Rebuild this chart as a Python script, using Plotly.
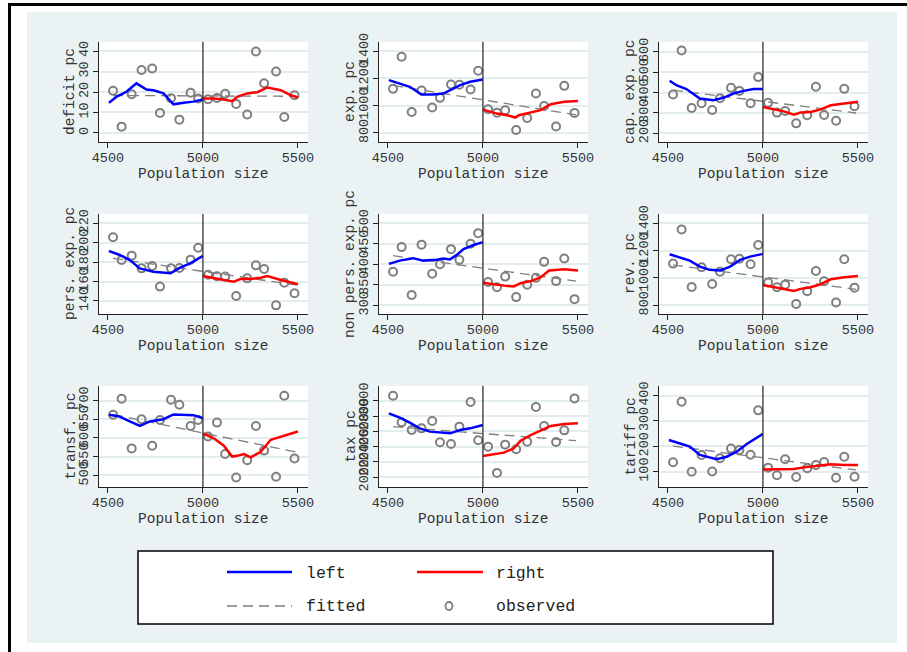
import plotly.graph_objects as go

W, H = 907, 652

# ---------------- data ----------------
bin_x = [4527, 4572, 4625, 4677, 4733, 4774, 4832, 4876, 4935, 4975,
         5027, 5074, 5117, 5175, 5233, 5279, 5322, 5385, 5428, 5482]

fit_x = [4527, 5490]

titles = ["deficit pc", "exp. pc", "cap. exp. pc",
          "pers. exp. pc", "non pers. exp. pc", "rev. pc",
          "transf. pc", "tax pc", "tariff pc"]

tickvals = [[0, 10, 20, 30, 40],
            [800, 1000, 1200, 1400],
            [200, 300, 400, 500, 600],
            [140, 160, 180, 200, 220],
            [300, 350, 400, 450, 500],
            [800, 1000, 1200, 1400],
            [500, 550, 600, 650, 700],
            [2000, 2200, 2400, 2600, 2800, 3000],
            [100, 200, 300, 400]]

# observed bin means
deficit_obs = [20.6, 3.1, 18.9, 30.7, 31.5, 9.8, 17.0, 6.5, 19.6, 16.8,
               16.5, 17.1, 19.1, 14.2, 9.0, 39.8, 24.3, 30.0, 7.8, 18.4]
exp_obs = [1123, 1358, 954, 1111, 986, 1057, 1155, 1153, 1118, 1255,
           974, 949, 967, 822, 910, 1089, 998, 847, 1145, 947]
capexp_obs = [390, 607, 324, 347, 314, 372, 423, 408, 347, 476,
              349, 301, 309, 248, 288, 428, 289, 261, 418, 332]
persexp_obs = [205.6, 182.2, 186.7, 173.6, 176.1, 154.8, 173.6, 174.0, 182.6, 194.9,
               167.1, 165.4, 165.1, 145.2, 163.3, 176.7, 173.0, 135.5, 158.9, 147.9]
nonpers_obs = [382, 442, 325, 448, 377, 400, 437, 411, 450, 476,
               357, 344, 370, 320, 350, 367, 406, 359, 414, 315]
rev_obs = [1105, 1354, 934, 1078, 956, 1046, 1137, 1141, 1100, 1241,
           966, 932, 951, 810, 902, 1051, 976, 820, 1137, 929]
transf_obs = [662, 705, 572, 650, 579, 648, 702, 689, 632, 648,
              604, 641, 557, 494, 540, 632, 566, 496, 713, 545]
tax_obs = [3065, 2717, 2617, 2639, 2735, 2457, 2435, 2661, 2983, 2483,
           2400, 2057, 2426, 2365, 2465, 2917, 2670, 2461, 2613, 3030]
tariff_obs = [137, 376, 100, 166, 101, 153, 191, 186, 167, 342,
              116, 86, 149, 79, 114, 126, 138, 76, 159, 80]

# local (left of cutoff) smooth
deficit_lx = [4505, 4544, 4597, 4650, 4703, 4739, 4792, 4845, 4898, 4951, 5000]
deficit_ly = [14.7, 17.6, 20.1, 24.2, 21.2, 20.9, 19.3, 14.0, 14.7, 15.3, 16.3]
exp_lx = [4505, 4562, 4615, 4677, 4739, 4792, 4827, 4880, 4933, 5000]
exp_ly = [1187, 1162, 1138, 1082, 1082, 1089, 1113, 1150, 1175, 1192]
capexp_lx = [4509, 4544, 4597, 4668, 4739, 4792, 4845, 4898, 4951, 5000]
capexp_ly = [458, 436, 417, 370, 362, 374, 395, 408, 417, 417]
persexp_lx = [4505, 4562, 4615, 4668, 4739, 4792, 4830, 4880, 4933, 5000]
persexp_ly = [191.5, 187.4, 182.2, 173.6, 170.2, 169.2, 168.5, 174.3, 178.8, 186.4]
nonpers_lx = [4505, 4562, 4633, 4686, 4756, 4792, 4827, 4862, 4898, 4951, 5000]
nonpers_ly = [401, 409, 415, 409, 411, 414, 412, 423, 437, 447, 454]
rev_lx = [4509, 4562, 4615, 4668, 4721, 4774, 4827, 4880, 4933, 5000]
rev_ly = [1173, 1151, 1127, 1083, 1059, 1054, 1083, 1132, 1156, 1176]
transf_lx = [4505, 4562, 4615, 4668, 4721, 4792, 4845, 4898, 4951, 5000]
transf_ly = [662, 657, 644, 632, 644, 650, 663, 663, 661, 653]
tax_lx = [4505, 4562, 4615, 4668, 4721, 4774, 4827, 4880, 4933, 5000]
tax_ly = [2835, 2778, 2713, 2639, 2596, 2583, 2574, 2617, 2639, 2683]
tariff_lx = [4505, 4562, 4615, 4668, 4721, 4756, 4809, 4862, 4915, 4968, 5000]
tariff_ly = [225, 212, 199, 166, 157, 149, 159, 179, 209, 232, 249]

# right of cutoff smooth
deficit_rx = [5000, 5057, 5110, 5154, 5180, 5233, 5286, 5339, 5410, 5463, 5500]
deficit_ry = [16.8, 16.8, 16.3, 15.5, 17.6, 19.3, 19.9, 22.2, 20.9, 18.4, 17.3]
exp_rx = [5000, 5074, 5127, 5171, 5189, 5251, 5304, 5357, 5428, 5500]
exp_ry = [971, 942, 930, 913, 930, 947, 967, 1011, 1028, 1035]
capexp_rx = [5000, 5057, 5110, 5163, 5198, 5251, 5304, 5357, 5428, 5500]
capexp_ry = [329, 316, 307, 291, 301, 304, 317, 337, 345, 354]
persexp_rx = [5000, 5057, 5110, 5163, 5198, 5251, 5304, 5339, 5410, 5500]
persexp_ry = [165.8, 163.3, 161.6, 159.9, 162.7, 162.7, 164.0, 165.8, 161.6, 157.2]
nonpers_rx = [5000, 5057, 5110, 5163, 5198, 5251, 5304, 5348, 5428, 5500]
nonpers_ry = [355, 351, 348, 346, 354, 359, 368, 385, 388, 385]
rev_rx = [5000, 5057, 5110, 5163, 5198, 5251, 5304, 5357, 5428, 5500]
rev_ry = [949, 932, 917, 905, 920, 932, 954, 990, 1005, 1015]
transf_rx = [5000, 5057, 5110, 5154, 5180, 5216, 5251, 5304, 5357, 5428, 5500]
transf_ry = [612, 599, 579, 550, 552, 557, 548, 563, 595, 605, 617]
tax_rx = [5000, 5057, 5110, 5163, 5198, 5251, 5304, 5357, 5428, 5500]
tax_ry = [2278, 2304, 2322, 2378, 2478, 2552, 2609, 2670, 2696, 2704]
tariff_rx = [5000, 5057, 5110, 5163, 5216, 5286, 5357, 5428, 5500]
tariff_ry = [109, 109, 109, 111, 117, 124, 129, 126, 126]

# linear fit end values
deficit_fit = [18.3, 17.9]
exp_fit = [1148, 933]
capexp_fit = [412, 299]
persexp_fit = [184, 156.5]
nonpers_fit = [421, 359]
rev_fit = [1095, 917]
transf_fit = [663, 562]
tax_fit = [2661, 2478]
tariff_fit = [201, 107]

obs = [deficit_obs, exp_obs, capexp_obs, persexp_obs, nonpers_obs, rev_obs,
       transf_obs, tax_obs, tariff_obs]
lx = [deficit_lx, exp_lx, capexp_lx, persexp_lx, nonpers_lx, rev_lx,
      transf_lx, tax_lx, tariff_lx]
ly = [deficit_ly, exp_ly, capexp_ly, persexp_ly, nonpers_ly, rev_ly,
      transf_ly, tax_ly, tariff_ly]
rx = [deficit_rx, exp_rx, capexp_rx, persexp_rx, nonpers_rx, rev_rx,
      transf_rx, tax_rx, tariff_rx]
ry = [deficit_ry, exp_ry, capexp_ry, persexp_ry, nonpers_ry, rev_ry,
      transf_ry, tax_ry, tariff_ry]
fits = [deficit_fit, exp_fit, capexp_fit, persexp_fit, nonpers_fit, rev_fit,
        transf_fit, tax_fit, tariff_fit]

yranges = [[-4.4, 44.4], [734, 1466], [156, 649],
           [126.6, 229.6], [278.8, 522.7], [736, 1468],
           [468.6, 739], [1873, 3192], [39.6, 438]]
xrange_ = [4453, 5553]

# ---------------- layout geometry (pixels) ----------------
col_px = [(99, 308), (379, 588), (659, 868)]
row_px = [(42, 142), (214, 314), (386, 487)]
xtitle_y = [174, 346, 519]


def px(x):
    return x / W


def py(y):
    return 1 - y / H


FONT = "Liberation Mono, Courier New, monospace"
BLUE = "#0000ff"
RED = "#ff0000"
GREY = "#7f7f7f"
BG = "#eaf2f3"
GRID = "#e3ecee"

fig = go.Figure()
layout = dict(width=W, height=H,
              margin=dict(l=0, r=0, t=0, b=0, pad=0, autoexpand=False),
              paper_bgcolor=BG, plot_bgcolor="white", showlegend=False,
              font=dict(family=FONT, color="#333333"))
shapes = []
annotations = []

for i in range(9):
    r, c = divmod(i, 3)
    n = "" if i == 0 else str(i + 1)
    xa, ya = "x" + n, "y" + n
    fig.add_trace(go.Scatter(x=fit_x, y=fits[i], mode="lines", xaxis=xa, yaxis=ya,
                             line=dict(color=GREY, width=1.3, dash="10px,6px")))
    fig.add_trace(go.Scatter(x=bin_x, y=obs[i], mode="markers", xaxis=xa, yaxis=ya,
                             marker=dict(symbol="circle-open", size=8, color=GREY,
                                         line=dict(width=2, color=GREY))))
    fig.add_trace(go.Scatter(x=lx[i], y=ly[i], mode="lines", xaxis=xa, yaxis=ya,
                             line=dict(color=BLUE, width=2.5)))
    fig.add_trace(go.Scatter(x=rx[i], y=ry[i], mode="lines", xaxis=xa, yaxis=ya,
                             line=dict(color=RED, width=2.5)))
    x0, x1 = col_px[c]
    y0, y1 = row_px[r]
    layout["xaxis" + n] = dict(domain=[px(x0), px(x1)], range=xrange_, anchor=ya,
                               tickvals=[4500, 5000, 5500], ticks="outside", ticklen=5,
                               tickcolor="#222", showline=True, linecolor="#222",
                               linewidth=1.2, showgrid=False, zeroline=False,
                               ticklabelstandoff=-2,
                               tickfont=dict(family=FONT, size=13.5, color="#333"))
    layout["yaxis" + n] = dict(domain=[py(y1), py(y0)], range=yranges[i], anchor=xa,
                               tickvals=tickvals[i], ticks="outside", ticklen=5,
                               tickcolor="#222", showline=True, linecolor="#222",
                               linewidth=1.2, showgrid=True, gridcolor=GRID,
                               gridwidth=1.5, zeroline=False, tickangle=-90,
                               tickfont=dict(family=FONT, size=13.5, color="#333"))
    shapes.append(dict(type="line", xref=xa, yref=ya + " domain", x0=5000, x1=5000,
                       y0=0, y1=1, line=dict(color="#333", width=1.3)))
    annotations.append(dict(text="Population size", xref="paper", yref="paper",
                            x=px((x0 + x1) / 2), y=py(xtitle_y[r]), showarrow=False,
                            xanchor="center", yanchor="middle",
                            font=dict(family=FONT, size=14.5, color="#333")))
    annotations.append(dict(text=titles[i], xref="paper", yref="paper",
                            x=px(x0 - 29), y=py((y0 + y1) / 2), showarrow=False,
                            textangle=-90, xanchor="center", yanchor="middle",
                            font=dict(family=FONT, size=14.5, color="#333")))

# white outer margins and black frame
for (a, b, cc, d) in [(0, 0, 27, H), (897, 0, W, H), (0, 0, W, 12), (0, 643, W, H)]:
    shapes.append(dict(type="rect", xref="paper", yref="paper", x0=px(a), x1=px(cc),
                       y0=py(d), y1=py(b), fillcolor="white", line=dict(width=0),
                       layer="below"))
shapes.append(dict(type="line", xref="paper", yref="paper", x0=px(8), x1=px(W),
                   y0=py(4.5), y1=py(4.5), line=dict(color="black", width=3)))
shapes.append(dict(type="line", xref="paper", yref="paper", x0=px(9.5), x1=px(9.5),
                   y0=py(H), y1=py(3), line=dict(color="black", width=3)))

# legend box
shapes.append(dict(type="rect", xref="paper", yref="paper", x0=px(138), x1=px(773),
                   y0=py(624), y1=py(551), fillcolor="white",
                   line=dict(color="black", width=1.5)))
shapes.append(dict(type="line", xref="paper", yref="paper", x0=px(227), x1=px(292),
                   y0=py(572), y1=py(572), line=dict(color=BLUE, width=2.6)))
shapes.append(dict(type="line", xref="paper", yref="paper", x0=px(417), x1=px(483),
                   y0=py(572), y1=py(572), line=dict(color=RED, width=2.6)))
shapes.append(dict(type="line", xref="paper", yref="paper", x0=px(227), x1=px(292),
                   y0=py(606), y1=py(606), line=dict(color=GREY, width=1.3,
                                                       dash="10px,6px")))
shapes.append(dict(type="circle", xref="paper", yref="paper", x0=px(445.5), x1=px(452.5),
                   y0=py(610), y1=py(602), line=dict(color=GREY, width=1.8)))
for txt, x, y in [("left", 304, 573), ("right", 494, 573),
                  ("fitted", 304, 606), ("observed", 494, 606)]:
    annotations.append(dict(text=txt, xref="paper", yref="paper", x=px(x), y=py(y),
                            showarrow=False, xanchor="left", yanchor="middle",
                            font=dict(family=FONT, size=16.5, color="#222")))

layout["shapes"] = shapes
layout["annotations"] = annotations
fig.update_layout(**layout)
fig.write_html("out.html")
